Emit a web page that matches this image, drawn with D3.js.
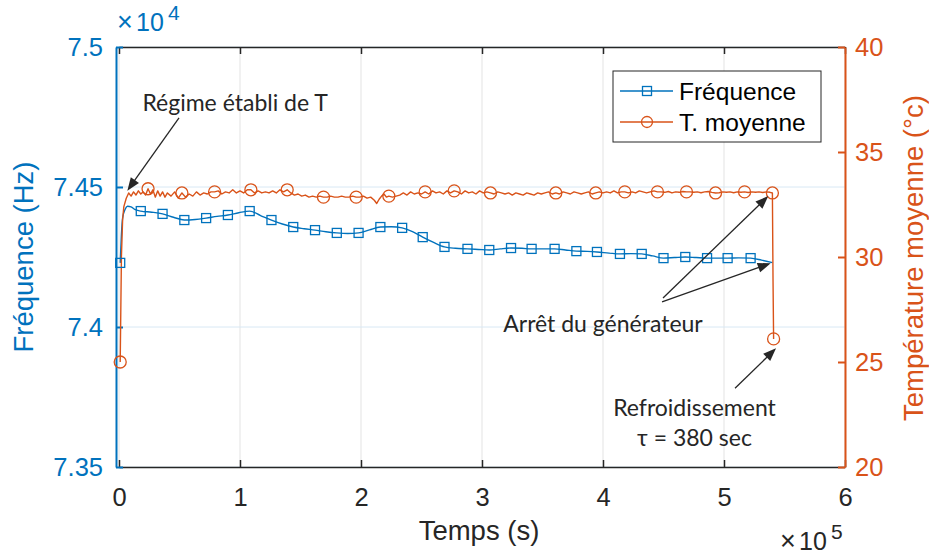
<!DOCTYPE html>
<html><head><meta charset="utf-8">
<script src="https://cdn.jsdelivr.net/npm/d3@7"></script>
<style>body{margin:0;background:#fff;} svg{display:block;}</style>
</head><body>
<svg id="c" width="929" height="556"></svg>
<script>
// ---------- DATA ----------
const timeTicks = [0, 100000, 200000, 300000, 400000, 500000, 600000];
const timeTickLabels = ["0", "1", "2", "3", "4", "5", "6"];
const freqTicks = [73500, 74000, 74500, 75000];
const freqTickLabels = ["7.35", "7.4", "7.45", "7.5"];
const tempTicks = [20, 25, 30, 35, 40];
const tempTickLabels = ["20", "25", "30", "35", "40"];
const seriesNames = ["Fréquence", "T. moyenne"];

// Fréquence (Hz) line
const freqTime = [1000, 2000, 3000, 5000, 7000, 10000, 13000, 18000, 27000, 36000, 45000, 54000, 63000, 72000, 81000, 90000, 99000, 108000, 117000, 126000, 135000, 144000, 153000, 162000, 171000, 180000, 189000, 198000, 207000, 216000, 225000, 234000, 243000, 251000, 260000, 269000, 278000, 288000, 297000, 306000, 315000, 324000, 333000, 341000, 350000, 360000, 369000, 378000, 387000, 395000, 405000, 414000, 423000, 432000, 441000, 450000, 459000, 468000, 477000, 486000, 495000, 503000, 512000, 522000, 531000, 540000];
const freqValue = [74229, 74330, 74390, 74420, 74431, 74429, 74420, 74414, 74410, 74404, 74392, 74382, 74384, 74389, 74395, 74400, 74408, 74414, 74398, 74382, 74368, 74357, 74351, 74346, 74340, 74336, 74334, 74336, 74347, 74357, 74358, 74354, 74340, 74321, 74302, 74286, 74281, 74279, 74277, 74275, 74279, 74282, 74281, 74279, 74279, 74279, 74275, 74271, 74270, 74268, 74264, 74261, 74262, 74261, 74254, 74246, 74248, 74250, 74248, 74246, 74246, 74246, 74247, 74246, 74239, 74230];
const freqMarkerTime = [1000, 18000, 36000, 54000, 72000, 90000, 108000, 126000, 144000, 162000, 180000, 198000, 216000, 234000, 251000, 269000, 288000, 306000, 324000, 341000, 360000, 378000, 395000, 414000, 432000, 450000, 468000, 486000, 503000, 522000];

// Température moyenne (°C) line
const tempTime = [1000, 1500, 2000, 3000, 4000, 6000, 8000, 10000, 12000, 14000, 16000, 18000, 20000, 22000, 24000, 26000, 28000, 30000, 32000, 34000, 36000, 38000, 40000, 43000, 46000, 49000, 52000, 55000, 58000, 61000, 64000, 67000, 70000, 73000, 76000, 79000, 82000, 85000, 88000, 91000, 94000, 97000, 100000, 103000, 106000, 109000, 112000, 115000, 118000, 121000, 124000, 127000, 130000, 133000, 136000, 139000, 142000, 145000, 148000, 151000, 154000, 157000, 160000, 163000, 166000, 169000, 172000, 175000, 178000, 181000, 184000, 187000, 190000, 193000, 196000, 199000, 202000, 205000, 208000, 211000, 213000, 215000, 217000, 219000, 221000, 223000, 226000, 229000, 232000, 235000, 238000, 241000, 244000, 247000, 250000, 253000, 256000, 259000, 262000, 265000, 268000, 271000, 274000, 277000, 280000, 283000, 286000, 289000, 292000, 295000, 298000, 301000, 304000, 307000, 310000, 313000, 316000, 319000, 322000, 325000, 328000, 331000, 334000, 337000, 340000, 343000, 346000, 349000, 352000, 355000, 358000, 361000, 364000, 367000, 370000, 373000, 376000, 379000, 382000, 385000, 388000, 391000, 394000, 397000, 400000, 403000, 406000, 409000, 412000, 415000, 418000, 421000, 424000, 427000, 430000, 433000, 436000, 439000, 442000, 445000, 448000, 451000, 454000, 457000, 460000, 463000, 466000, 469000, 472000, 475000, 478000, 481000, 484000, 487000, 490000, 493000, 496000, 499000, 502000, 505000, 508000, 511000, 514000, 517000, 520000, 523000, 526000, 529000, 532000, 535000, 538000, 540000, 540500, 541000];
const tempValue = [25.0, 27.5, 30.0, 31.8, 32.4, 32.8, 33.05, 32.9, 33.1, 32.95, 33.15, 33.0, 33.1, 32.95, 33.25, 33.0, 33.2, 32.85, 33.15, 32.9, 33.1, 32.85, 33.05, 32.9, 33.1, 32.8, 33.05, 32.85, 33.0, 32.9, 33.1, 32.95, 33.05, 33.0, 33.1, 33.1, 33.15, 33.0, 33.1, 33.05, 33.2, 33.05, 33.15, 33.05, 33.2, 33.2, 33.05, 33.15, 33.05, 33.1, 33.05, 33.15, 33.05, 33.2, 33.1, 33.2, 33.05, 32.95, 33.0, 32.9, 32.95, 32.85, 32.9, 32.85, 32.9, 32.85, 32.85, 32.9, 32.85, 32.85, 32.9, 32.85, 32.85, 32.9, 32.85, 32.85, 32.9, 32.8, 32.85, 32.7, 32.55, 32.75, 32.9, 33.0, 32.85, 32.9, 32.85, 32.9, 32.95, 33.05, 32.95, 33.1, 33.0, 33.05, 33.0, 33.1, 33.0, 33.15, 33.05, 33.1, 33.0, 33.15, 33.05, 33.15, 33.1, 33.0, 33.15, 33.05, 33.1, 33.0, 33.15, 33.05, 33.1, 33.05, 33.0, 33.1, 33.05, 33.0, 33.05, 32.95, 33.05, 33.0, 32.95, 33.05, 33.0, 32.95, 33.05, 33.0, 33.05, 33.1, 33.0, 33.05, 33.0, 33.1, 33.05, 33.0, 33.1, 33.05, 33.0, 33.05, 33.1, 33.0, 33.05, 33.1, 33.05, 33.1, 33.05, 33.15, 33.05, 33.1, 33.1, 33.05, 33.1, 33.05, 33.15, 33.1, 33.05, 33.1, 33.15, 33.1, 33.1, 33.08, 33.12, 33.05, 33.1, 33.08, 33.12, 33.1, 33.1, 33.08, 33.1, 33.06, 33.1, 33.12, 33.08, 33.05, 33.06, 33.1, 33.08, 33.1, 33.06, 33.1, 33.08, 33.1, 33.07, 33.1, 33.08, 33.1, 33.07, 33.1, 33.08, 33.05, 29.0, 26.1];
const tempMarkerTime = [1000, 24000, 52000, 79000, 109000, 139000, 169000, 196000, 223000, 253000, 277000, 307000, 361000, 394000, 418000, 445000, 469000, 493000, 517000, 540000, 541000];

// Annotations (x in s, y in °C on the right axis)
const noteTexts = ["Régime établi de T", "Arrêt du générateur", "Refroidissement", "τ = 380 sec"];
const noteX = [96000, 400000, 475600, 475600];
const noteY = [36.95, 26.43, 22.43, 21.0];
const arrowFrom = [[49600, 36.62], [449600, 28.05], [448800, 27.86], [509100, 23.75]];
const arrowTo = [[6900, 33.16], [536600, 32.9], [538600, 29.7], [543000, 25.65]];

// ---------- CHART ----------
const BLUE = "#0072BD", ORANGE = "#D95319", INK = "#262626";
const AXF = "'Liberation Sans', Arial, Helvetica, sans-serif";
const svg = d3.select("#c");
const x = d3.scaleLinear([0, 600000], [119, 845]);
const yF = d3.scaleLinear([73500, 75000], [467, 47]);
const yT = d3.scaleLinear([20, 40], [467, 47]);

// grid
const grid = svg.append("g");
grid.selectAll("line.v").data(timeTicks).join("line")
  .attr("x1", d => x(d)).attr("x2", d => x(d)).attr("y1", 47).attr("y2", 467)
  .attr("stroke", "#e3e3e3").attr("stroke-width", 1);
grid.selectAll("line.h").data(freqTicks).join("line")
  .attr("x1", 119).attr("x2", 845).attr("y1", d => yF(d)).attr("y2", d => yF(d))
  .attr("stroke", "#d8e8f4").attr("stroke-width", 1);

function styleAxis(g, color, width) {
  g.select(".domain").attr("stroke", color).attr("stroke-width", width);
  g.selectAll(".tick line").attr("stroke", color).attr("stroke-width", width);
  g.selectAll(".tick text").attr("fill", color).style("font-family", AXF).style("font-size", "25.5px");
}

// top
const gTop = svg.append("g").attr("transform", "translate(0,47)")
  .call(d3.axisTop(x).tickValues(timeTicks).tickFormat(() => "").tickSize(-7).tickSizeOuter(0));
styleAxis(gTop, INK, 1.5);
// bottom
const gBot = svg.append("g").attr("transform", "translate(0,467)")
  .call(d3.axisBottom(x).tickValues(timeTicks).tickFormat((d, i) => timeTickLabels[i]).tickSize(-7).tickSizeOuter(0).tickPadding(21));
styleAxis(gBot, INK, 1.5);
// left
const gL = svg.append("g").attr("transform", "translate(116,0)")
  .call(d3.axisLeft(yF).tickValues(freqTicks).tickFormat((d, i) => freqTickLabels[i]).tickSize(-7).tickSizeOuter(0).tickPadding(13));
styleAxis(gL, BLUE, 2);
// right
const gR = svg.append("g").attr("transform", "translate(845,0)")
  .call(d3.axisRight(yT).tickValues(tempTicks).tickFormat((d, i) => tempTickLabels[i]).tickSize(-7).tickSizeOuter(0).tickPadding(10));
styleAxis(gR, ORANGE, 2);

// exponent labels
function expo(xp, yb, exp, color) {
  svg.append("text").attr("x", xp - 1).attr("y", yb).attr("fill", color)
    .style("font-family", AXF).style("font-size", "27px").style("font-weight", "300").text("×");
  svg.append("text").attr("x", xp + 18).attr("y", yb).attr("fill", color)
    .style("font-family", AXF).style("font-size", "25px").text("10");
  svg.append("text").attr("x", xp + 50).attr("y", yb - 11).attr("fill", color)
    .style("font-family", AXF).style("font-size", "21px").text(exp);
}
expo(118, 31, "4", BLUE);
expo(781, 550, "5", INK);

// axis labels
svg.append("text").attr("transform", "translate(33,257) rotate(-90)").attr("text-anchor", "middle")
  .attr("fill", BLUE).style("font-family", AXF).style("font-size", "27.5px").text("Fréquence (Hz)");
svg.append("text").attr("transform", "translate(923,258) rotate(-90)").attr("text-anchor", "middle")
  .attr("fill", ORANGE).style("font-family", AXF).style("font-size", "27.5px").text("Température moyenne (°c)");
svg.append("text").attr("x", 479).attr("y", 540).attr("text-anchor", "middle")
  .attr("fill", INK).style("font-family", AXF).style("font-size", "27.5px").text("Temps (s)");

// series
const freqData = freqTime.map((t, i) => ({t, v: freqValue[i]}));
const tempData = tempTime.map((t, i) => ({t, v: tempValue[i]}));
svg.append("path").datum(freqData)
  .attr("d", d3.line().x(d => x(d.t)).y(d => yF(d.v)).curve(d3.curveMonotoneX))
  .attr("fill", "none").attr("stroke", BLUE).attr("stroke-width", 1.4);
svg.append("path").datum(tempData)
  .attr("d", d3.line().x(d => x(d.t)).y(d => yT(d.v)))
  .attr("fill", "none").attr("stroke", ORANGE).attr("stroke-width", 1.4).attr("stroke-linejoin", "round");

const freqMarks = freqMarkerTime.map(t => freqData.find(d => d.t === t));
const tempMarks = tempMarkerTime.map(t => tempData.find(d => d.t === t));
svg.append("g").selectAll("rect").data(freqMarks).join("rect")
  .attr("x", d => x(d.t) - 4.5).attr("y", d => yF(d.v) - 4.5).attr("width", 9).attr("height", 9)
  .attr("fill", "none").attr("stroke", BLUE).attr("stroke-width", 1.3);
svg.append("g").selectAll("circle").data(tempMarks).join("circle")
  .attr("cx", d => x(d.t)).attr("cy", d => yT(d.v)).attr("r", 6)
  .attr("fill", "none").attr("stroke", ORANGE).attr("stroke-width", 1.3);

// annotations
const NF = "Lato, 'Open Sans', 'Noto Sans', sans-serif";
noteTexts.forEach((s, i) => {
  svg.append("text").attr("x", x(noteX[i])).attr("y", yT(noteY[i])).attr("text-anchor", "middle")
    .attr("fill", INK).style("font-family", NF).style("font-size", "23px").text(s);
});
arrowFrom.forEach((p, i) => {
  const x0 = x(p[0]), y0 = yT(p[1]), x1 = x(arrowTo[i][0]), y1 = yT(arrowTo[i][1]);
  const L = Math.hypot(x1 - x0, y1 - y0), ux = (x1 - x0) / L, uy = (y1 - y0) / L;
  const bx = x1 - ux * 13, by = y1 - uy * 13;
  svg.append("line").attr("x1", x0).attr("y1", y0).attr("x2", bx + ux * 2).attr("y2", by + uy * 2)
    .attr("stroke", INK).attr("stroke-width", 1.3);
  svg.append("path").attr("d", `M${x1},${y1}L${bx - uy * 5},${by + ux * 5}L${bx + uy * 5},${by - ux * 5}Z`)
    .attr("fill", INK);
});

// legend
const lg = svg.append("g");
lg.append("rect").attr("x", 613).attr("y", 71).attr("width", 208).attr("height", 71)
  .attr("fill", "#fff").attr("stroke", INK).attr("stroke-width", 1);
const rows = [{c: BLUE, m: "sq", y: 91}, {c: ORANGE, m: "ci", y: 122}];
rows.forEach((r, i) => {
  lg.append("line").attr("x1", 620).attr("x2", 673).attr("y1", r.y).attr("y2", r.y)
    .attr("stroke", r.c).attr("stroke-width", 1.4);
  if (r.m === "sq") lg.append("rect").attr("x", 642.5).attr("y", r.y - 4.5).attr("width", 9).attr("height", 9)
    .attr("fill", "none").attr("stroke", r.c).attr("stroke-width", 1.3);
  else lg.append("circle").attr("cx", 647).attr("cy", r.y).attr("r", 5.5)
    .attr("fill", "none").attr("stroke", r.c).attr("stroke-width", 1.3);
  lg.append("text").attr("x", 679).attr("y", r.y).attr("dy", "0.35em").attr("fill", "#000")
    .style("font-family", AXF).style("font-size", "24.5px").text(seriesNames[i]);
});
</script></body></html>
